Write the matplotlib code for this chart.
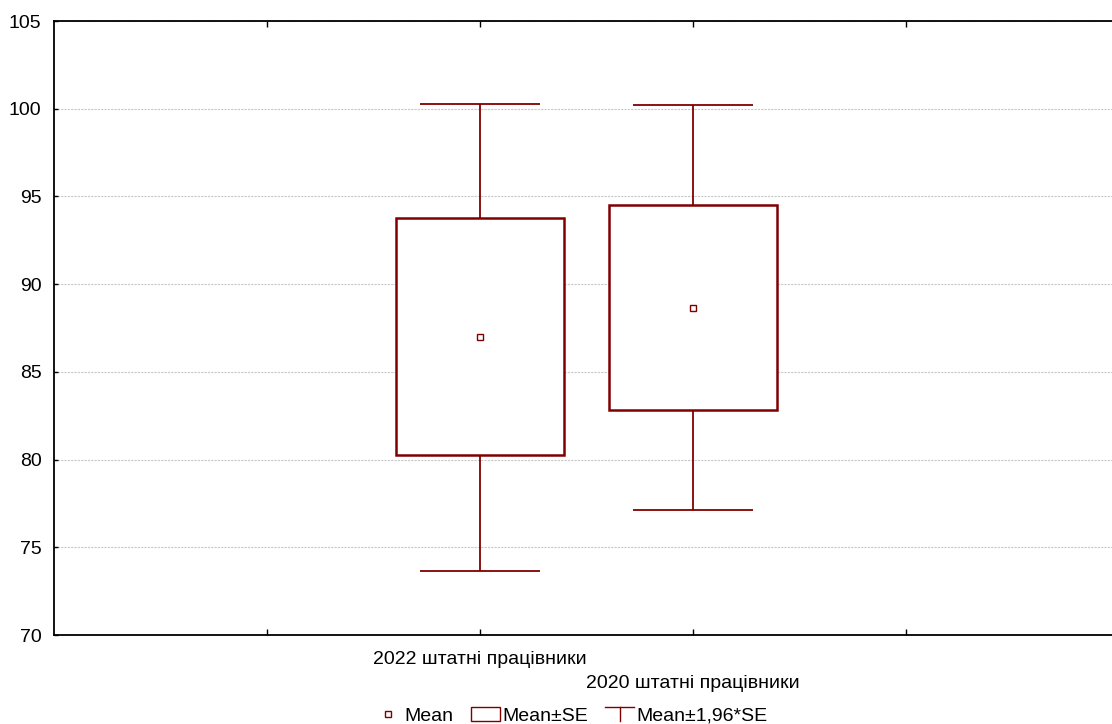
import numpy as np
import matplotlib.pyplot as plt
from matplotlib.patches import Rectangle
from matplotlib.lines import Line2D
from matplotlib.legend_handler import HandlerBase

plt.rcParams['font.family'] = ['Liberation Sans', 'DejaVu Sans']

groups = ['2022 штатні працівники', '2020 штатні працівники']
positions = [2, 3]
means = [87.0, 88.65]
se_low = [80.25, 82.85]
se_high = [93.75, 94.5]
ci_low = [73.65, 77.1]
ci_high = [100.28, 100.22]

red = '#800000'


class WhiskerHandler(HandlerBase):
    # T-shaped legend key for the 1.96*SE whisker
    def create_artists(self, legend, orig_handle, xdescent, ydescent,
                       width, height, fontsize, trans):
        cx = width / 2 - xdescent
        top = height - ydescent
        cap = Line2D([-xdescent, width - xdescent], [top, top],
                     color=red, lw=1.0, transform=trans)
        stem = Line2D([cx, cx], [top, -ydescent],
                      color=red, lw=1.0, transform=trans)
        return [cap, stem]


fig = plt.figure(figsize=(11.12, 7.24), dpi=100)
ax = fig.add_axes([54 / 1112, 1 - 635 / 724, 1 - 54 / 1112, 614 / 724])

box_w = 0.79
cap_w = 0.56
for x, m, sl, sh, cl, ch in zip(positions, means, se_low, se_high, ci_low, ci_high):
    ax.vlines(x, cl, sl, color=red, lw=1.3, zorder=3)
    ax.vlines(x, sh, ch, color=red, lw=1.3, zorder=3)
    ax.hlines([cl, ch], x - cap_w / 2, x + cap_w / 2, color=red, lw=1.3, zorder=3)
    ax.add_patch(Rectangle((x - box_w / 2, sl), box_w, sh - sl,
                           facecolor='white', edgecolor=red, lw=1.8, zorder=3))
ax.plot(positions, means, 's', ms=5, mfc='white', mec=red, mew=1.0,
        ls='none', zorder=4)

ax.set_ylim(70, 105)
ax.set_yticks(np.arange(70, 106, 5))
ax.set_xlim(0, (1112 - 54) / 213)
ax.set_xticks([1, 2, 3, 4])
ax.set_xticklabels([])
ax.tick_params(axis='x', direction='in', top=True, bottom=True, length=4, width=1)
ax.tick_params(axis='y', direction='in', length=3, width=1, labelsize=14, pad=9)
ax.yaxis.grid(True, ls=(0, (2, 1)), color='#c8c8c8', lw=0.8)
ax.set_axisbelow(True)
for s in ['left', 'bottom', 'top']:
    ax.spines[s].set_linewidth(1.3)
ax.spines['right'].set_visible(False)

# staggered category labels
for i, (x, g) in enumerate(zip(positions, groups)):
    ax.text(x, -(660 - 635 + 24 * i) / 614, g, transform=ax.get_xaxis_transform(),
            ha='center', va='center', fontsize=14)

handles = [
    Line2D([], [], marker='s', ms=5, mfc='white', mec=red, mew=1.0, ls='none'),
    Rectangle((0, 0), 1, 1, facecolor='white', edgecolor=red, lw=1.0),
    object(),
]
labels = ['Mean', 'Mean±SE', 'Mean±1,96*SE']
fig.legend(handles, labels, loc='lower center', bbox_to_anchor=(0.513, -0.025),
           ncol=3, frameon=False, fontsize=14, handlelength=1.5,
           handletextpad=0.1, columnspacing=0.9,
           handler_map={object: WhiskerHandler()})

fig.savefig('out.png', dpi=100)
